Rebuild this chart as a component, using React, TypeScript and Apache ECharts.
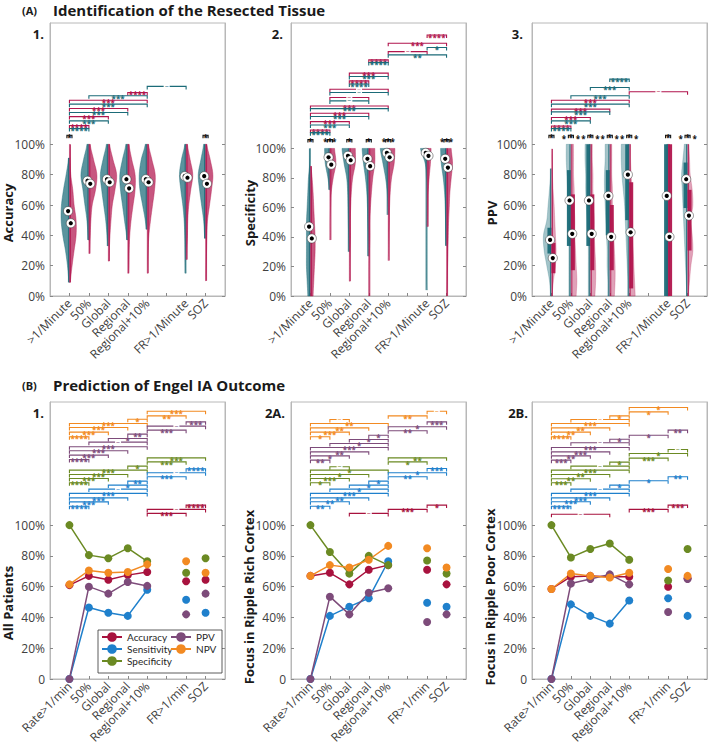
import React, { useEffect, useRef } from "react";
import * as echarts from "echarts";

// ---------------- DATA ----------------
const POS = [1, 2, 3, 4, 5, 7, 8];
const TOP_LABELS = [">1/Minute", "50%", "Global", "Regional", "Regional+10%", "FR>1/Minute", "SOZ"];
const BOTTOM_LABELS = ["Rate>1/min", "50%", "Global", "Regional", "Regional+10%", "FR>1/min", "SOZ"];
const Y_TICKS = [0, 20, 40, 60, 80, 100];

// Violin density profiles, sampled at 0,10,...,100 %
const accTealDensity = [
  [0, 2, 6, 12, 20, 25, 24, 18, 10, 3, 0],
  [0, 0, 0, 2, 3, 6, 12, 18, 24, 16, 6],
  [0, 0, 0, 1, 4, 8, 14, 20, 24, 16, 6],
  [0, 0, 0, 1, 4, 10, 16, 22, 24, 16, 6],
  [0, 0, 0, 0, 1, 6, 14, 22, 24, 18, 6],
  [0, 1, 2, 3, 4, 6, 10, 16, 20, 14, 4],
  [0, 0, 0, 1, 3, 6, 12, 18, 22, 14, 6],
];
const accTealRange = [[9, 91], [37, 100], [33, 100], [37, 100], [44, 100], [15, 100], [38, 100]];
const accTealMedian = [56, 76, 77, 77, 77, 79, 79];
const accRedDensity = [
  [0, 3, 8, 14, 20, 20, 14, 10, 4, 2, 1],
  [0, 0, 1, 2, 4, 6, 10, 20, 24, 14, 4],
  [0, 0, 2, 3, 5, 8, 12, 20, 25, 14, 4],
  [0, 1, 3, 4, 6, 10, 16, 22, 22, 12, 4],
  [0, 1, 2, 3, 5, 10, 16, 22, 24, 14, 4],
  [0, 0, 1, 2, 4, 5, 8, 14, 20, 12, 4],
  [0, 1, 2, 3, 4, 6, 12, 18, 22, 14, 4],
];
const accRedRange = [[9, 100], [28, 100], [23, 100], [15, 100], [15, 100], [24, 100], [10, 100]];
const accRedMedian = [48, 74, 75, 71, 75, 78, 74];

const specTealDensity = [
  [8, 10, 12, 12, 12, 12, 10, 8, 6, 2, 1],
  [0, 0, 0, 0, 0, 0, 0, 1, 6, 14, 16],
  [0, 0, 0, 1, 2, 3, 4, 5, 8, 16, 22],
  [0, 0, 0, 1, 2, 3, 4, 6, 10, 16, 20],
  [0, 0, 0, 0, 0, 0, 1, 3, 8, 16, 24],
  [0, 1, 1, 1, 1, 1, 1, 1, 2, 6, 20],
  [0, 0, 0, 0, 2, 3, 4, 6, 10, 16, 18],
];
const specTealRange = [[0, 100], [72, 100], [30, 100], [27, 100], [55, 100], [4, 100], [34, 100]];
const specTealMedian = [47, 94, 95, 93, 97, 97, 93];
const specRedDensity = [
  [8, 10, 12, 14, 14, 12, 10, 8, 5, 1, 0],
  [0, 0, 0, 0, 1, 1, 2, 4, 10, 18, 14],
  [0, 1, 1, 2, 3, 3, 4, 6, 10, 18, 18],
  [1, 1, 1, 2, 3, 3, 5, 8, 12, 18, 18],
  [0, 0, 0, 1, 2, 3, 4, 6, 10, 18, 20],
  [0, 0, 0, 0, 0, 1, 2, 3, 6, 10, 12],
  [1, 2, 3, 4, 5, 6, 8, 10, 14, 18, 14],
];
const specRedRange = [[0, 88], [38, 100], [10, 100], [0, 100], [24, 100], [47, 100], [0, 100]];
const specRedMedian = [39, 89, 92, 88, 94, 95, 87];

const ppvTealDensity = [
  [2, 6, 14, 22, 24, 14, 10, 6, 2, 0, 0],
  [6, 6, 6, 6, 6, 8, 10, 10, 12, 14, 14],
  [6, 6, 6, 6, 8, 10, 12, 14, 14, 16, 16],
  [6, 6, 8, 8, 10, 12, 14, 16, 16, 14, 14],
  [4, 4, 6, 8, 10, 12, 14, 18, 22, 24, 24],
  [4, 4, 4, 4, 4, 4, 4, 4, 4, 4, 4],
  [2, 4, 6, 8, 10, 12, 14, 16, 18, 14, 10],
];
const ppvTealRange = [[0, 84], [0, 100], [0, 100], [0, 100], [0, 100], [0, 100], [0, 100]];
const ppvTealMedian = [37, 63, 63, 66, 80, 66, 77];
const ppvTealIqr = [[28, 45], [33, 83], [33, 100], [40, 83], [50, 100], [0, 100], [58, 88]];
const ppvRedDensity = [
  [2, 6, 12, 14, 12, 10, 8, 5, 3, 2, 0],
  [16, 18, 16, 14, 12, 12, 10, 10, 8, 8, 8],
  [14, 16, 16, 14, 12, 12, 10, 8, 8, 6, 6],
  [14, 16, 16, 14, 12, 10, 8, 8, 6, 6, 6],
  [18, 16, 14, 12, 10, 10, 8, 8, 6, 4, 4],
  [4, 4, 4, 4, 4, 4, 4, 4, 4, 4, 4],
  [2, 6, 10, 16, 14, 10, 16, 14, 8, 6, 4],
];
const ppvRedRange = [[0, 97], [0, 100], [0, 100], [0, 100], [0, 100], [0, 100], [0, 100]];
const ppvRedMedian = [25, 41, 41, 39, 42, 39, 53];
const ppvRedIqr = [[15, 35], [17, 67], [17, 67], [17, 60], [5, 75], [0, 100], [30, 70]];

// Bottom row metrics at POS
const allAcc = [61, 67, 64.5, 67.5, 69.5, 63.5, 64.5];
const allSens = [0, 46.5, 43, 41, 58, 51.5, 43];
const allSpec = [100, 80.5, 78.5, 85, 76.5, 69, 78.5];
const allPpv = [0, 60, 55.5, 63, 60.5, 42, 55.5];
const allNpv = [61.5, 70.5, 69, 69.5, 74.5, 76.5, 69];

const richAcc = [67, 69, 61.5, 71, 74, 71, 61.5];
const richSens = [0, 41, 47, 52.5, 76.5, 49.5, 47];
const richSpec = [100, 82.5, 68.5, 80, 74, 77, 68.5];
const richPpv = [0, 53.5, 42, 56, 59, 37, 42];
const richNpv = [67, 74, 72.5, 77.5, 86.5, 85, 72.5];

const poorAcc = [58.5, 66.5, 67, 66.5, 66.5, 60, 65.5];
const poorSens = [0, 48.5, 41, 36, 51, 52.5, 41];
const poorSpec = [100, 79, 84.5, 88, 77.5, 64, 84.5];
const poorPpv = [0, 62, 65, 68, 61.5, 43.5, 65];
const poorNpv = [58.5, 68.5, 67, 66, 69, 71.5, 67];

// Significance brackets [from, to, level(%), label]
type Br = [number, number, number, string];
const accRedBr: Br[] = [[1, 2, 112.4, "****"], [1, 3, 118.3, "***"], [1, 4, 123.6, "***"], [1, 5, 129.1, "***"], [4, 5, 134.2, "****"]];
const accTealBr: Br[] = [[1, 2, 110.4, "****"], [1, 3, 115.5, "***"], [1, 4, 121, "***"], [1, 5, 126.5, "***"], [2, 5, 132, "***"], [5, 7, 138.2, "~"]];
const specRedBr: Br[] = [[1, 2, 112.5, "****"], [1, 3, 118.2, "***"], [1, 4, 123.8, "***"], [1, 5, 128.8, "***"], [2, 4, 134.5, "~"], [2, 5, 140.1, "~"], [3, 4, 145.8, "****"], [3, 5, 151, "***"], [4, 5, 160, "****"], [5, 7, 165.6, "~"], [5, 8, 171.3, "***"], [7, 8, 176.9, "****"]];
const specTealBr: Br[] = [[1, 2, 110.7, "****"], [1, 3, 115.9, "***"], [1, 4, 121.6, "***"], [1, 5, 127, "***"], [2, 4, 132.2, "~"], [2, 5, 137.9, "~"], [3, 4, 143.7, "****"], [3, 5, 148.7, "***"], [4, 5, 158.2, "****"], [5, 8, 163.4, "**"], [7, 8, 168.4, "*"]];
const ppvRedBr: Br[] = [[1, 2, 112.1, "****"], [1, 3, 117.7, "***"], [1, 4, 123.2, "***"], [1, 5, 129.1, "***"], [5, 8, 134.7, "~"]];
const ppvTealBr: Br[] = [[1, 2, 110.4, "****"], [1, 3, 115.5, "***"], [1, 4, 121.4, "***"], [1, 5, 126.5, "***"], [2, 5, 132, "***"], [3, 5, 137.5, "***"], [4, 5, 143, "****"]];

// within-category marks [position, label, side asterisks (1/0)]
const accWithin: [number, string, number][] = [[1, "*", 0], [8, "*", 0]];
const specWithin: [number, string, number][] = [[1, "*", 0], [2, "***", 0], [3, "*", 0], [4, "*", 0], [5, "***", 0], [8, "***", 0]];
const ppvWithin: [number, string, number][] = [[1, "*", 0], [2, "*", 1], [3, "*", 1], [4, "*", 1], [5, "*", 1], [7, "*", 0], [8, "*", 1]];

const allNpvBr: Br[] = [[5, 8, 174.0, "***"], [5, 7, 171.0, "**"], [4, 5, 168.8, "*"], [1, 5, 166.0, "***"], [1, 4, 163.4, "***"], [1, 3, 160.4, "***"], [1, 2, 157.4, "****"]];
const allPpvBr: Br[] = [[7, 8, 167.1, "***"], [5, 8, 164.3, "~"], [5, 7, 161.7, "***"], [4, 5, 159.1, "**"], [3, 5, 156.3, "*"], [2, 5, 153.9, "~"], [1, 5, 150.9, "***"], [1, 4, 148.3, "***"], [1, 3, 145.5, "***"], [1, 2, 142.6, "****"]];
const allSpecBr: Br[] = [[5, 8, 143.7, "***"], [5, 7, 141.1, "***"], [4, 5, 138.3, "*"], [1, 5, 135.7, "***"], [1, 4, 132.9, "***"], [1, 3, 130.3, "***"], [1, 2, 127.5, "****"]];
const allSensBr: Br[] = [[7, 8, 136.6, "****"], [5, 8, 134.0, "~"], [5, 7, 131.4, "***"], [4, 5, 128.6, "**"], [3, 5, 126.0, "*"], [2, 5, 123.4, "~"], [1, 5, 120.6, "***"], [1, 4, 117.7, "***"], [1, 3, 115.1, "***"], [1, 2, 112.3, "****"]];
const allAccBr: Br[] = [[7, 8, 113.0, "****"], [5, 8, 110.2, "~"], [5, 7, 107.6, "***"]];

const richNpvBr: Br[] = [[7, 8, 174.0, "~"], [5, 7, 171.0, "**"], [2, 3, 168.6, "~"], [1, 5, 166.0, "**"], [1, 4, 163.2, "**"], [1, 3, 160.4, "***"], [1, 2, 157.4, "*"]];
const richPpvBr: Br[] = [[7, 8, 167.1, "***"], [5, 8, 163.9, "*"], [5, 7, 161.3, "**"], [4, 5, 158.4, "*"], [3, 5, 155.6, "*"], [2, 5, 153.0, "*"], [1, 5, 150.4, "***"], [1, 4, 147.6, "**"], [1, 3, 145.0, "*"], [1, 2, 142.2, "**"]];
const richSpecBr: Br[] = [[5, 8, 143.7, "**"], [5, 7, 141.1, "*"], [2, 3, 137.9, "~"], [1, 5, 135.7, "*"], [1, 4, 132.9, "*"], [1, 3, 130.3, "***"], [1, 2, 127.5, "*"]];
const richSensBr: Br[] = [[7, 8, 136.8, "***"], [5, 8, 134.0, "*"], [5, 7, 131.4, "**"], [4, 5, 128.6, "*"], [3, 5, 126.0, "*"], [2, 5, 123.4, "*"], [1, 5, 120.6, "***"], [1, 4, 117.7, "**"], [1, 3, 115.2, "**"], [1, 2, 112.3, "**"]];
const richAccBr: Br[] = [[7, 8, 113.0, "*"], [5, 7, 110.2, "***"], [3, 5, 107.6, "~"]];

const poorNpvBr: Br[] = [[5, 8, 176.4, "*"], [5, 7, 173.6, "*"], [4, 5, 171.0, "*"], [2, 5, 168.6, "~"], [1, 5, 166.0, "***"], [1, 4, 163.2, "**"], [1, 3, 160.4, "**"], [1, 2, 157.4, "****"]];
const poorPpvBr: Br[] = [[7, 8, 161.7, "**"], [5, 7, 158.4, "*"], [4, 5, 155.8, "*"], [2, 5, 153.5, "~"], [1, 5, 150.4, "***"], [1, 4, 147.6, "***"], [1, 3, 145.0, "**"], [1, 2, 142.2, "***"]];
const poorSpecBr: Br[] = [[7, 8, 149.1, "~"], [5, 8, 146.5, "*"], [5, 7, 143.5, "***"], [4, 5, 140.9, "*"], [2, 5, 138.3, "~"], [1, 5, 135.7, "***"], [1, 4, 132.9, "**"], [1, 3, 130.1, "**"], [1, 2, 127.5, "***"]];
const poorSensBr: Br[] = [[7, 8, 131.4, "**"], [5, 7, 128.8, "*"], [4, 5, 126.0, "*"], [2, 5, 123.4, "~"], [1, 5, 120.6, "***"], [1, 4, 117.7, "***"], [1, 3, 115.2, "***"], [1, 2, 112.3, "****"]];
const poorAccBr: Br[] = [[7, 8, 113.0, "***"], [5, 7, 110.2, "***"], [1, 4, 107.1, "~"]];

const METRICS = ["Accuracy", "Sensitivity", "Specificity", "PPV", "NPV"];

// ---------------- STYLE / LAYOUT ----------------
const FONT = '"Open Sans", "Noto Sans", sans-serif';
const TEAL = "#1b6b78";
const CRIMSON = "#b1154d";
const MCOLORS = ["#a8123e", "#1f80cc", "#6b8a23", "#7d4b7a", "#f28a22"];
const GRID_LEFT = [50, 291, 532];
const GRID_W = 175;
const TOP_Y = 23, TOP_H = 273;
const BOT_Y = 402, BOT_H = 277;
const AXIS_GRAY = "#b8b8b8";
const LABEL_GRAY = "#404040";

function densAt(d: number[], v: number): number {
  const t = v / 10;
  const i = Math.floor(t);
  if (i >= 10) return d[10];
  if (i < 0) return d[0];
  const f = t - i;
  const p0 = d[Math.max(i - 1, 0)], p1 = d[i], p2 = d[Math.min(i + 1, 10)], p3 = d[Math.min(i + 2, 10)];
  const r = 0.5 * (2 * p1 + (-p0 + p2) * f + (2 * p0 - 5 * p1 + 4 * p2 - p3) * f * f + (-p0 + 3 * p1 - 3 * p2 + p3) * f * f * f);
  return Math.max(0, r);
}

interface Half { density: number[][]; range: number[][]; median: number[]; iqr?: number[][] }

function violinSeries(g: number, teal: Half, red: Half, alpha: number) {
  const items: number[][] = [];
  POS.forEach((p, i) => { items.push([p, 0, i]); items.push([p, 1, i]); });
  return {
    type: "custom", xAxisIndex: g, yAxisIndex: 2 * g, z: 2, silent: true,
    data: items, encode: { x: 0, y: 1 },
    renderItem: (params: any, api: any) => {
      const [p, side, i] = items[params.dataIndex];
      const h = side === 0 ? teal : red;
      const col = side === 0 ? TEAL : CRIMSON;
      const sign = side === 0 ? -1 : 1;
      const unit = api.size([1, 0])[0];
      const cx = api.coord([p, 0])[0];
      const [lo, hi] = h.range[i];
      const pts: number[][] = [];
      for (let v = lo; v < hi; v += 1) pts.push([cx + sign * densAt(h.density[i], v) / 58.6 * unit, api.coord([p, v])[1]]);
      pts.push([cx + sign * densAt(h.density[i], hi) / 58.6 * unit, api.coord([p, hi])[1]]);
      pts.push([cx, api.coord([p, hi])[1]]);
      pts.push([cx, api.coord([p, lo])[1]]);
      const children: any[] = [
        { type: "polygon", shape: { points: pts }, style: { fill: col, opacity: alpha, stroke: col, lineWidth: 0.6 } },
        { type: "line", shape: { x1: cx + sign * 1, y1: api.coord([p, lo])[1], x2: cx + sign * 1, y2: api.coord([p, hi])[1] }, style: { stroke: col, lineWidth: 1, opacity: 0.85 } },
      ];
      if (h.iqr) {
        const [q1, q3] = h.iqr[i];
        const y1 = api.coord([p, q3])[1], y2 = api.coord([p, q1])[1];
        children.push({ type: "rect", shape: { x: sign < 0 ? cx - 4 : cx, y: y1, width: 4, height: y2 - y1 }, style: { fill: col, opacity: 0.95 } });
      }
      return { type: "group", children };
    },
  };
}

function medianSeries(g: number, teal: Half, red: Half) {
  const items: number[][] = [];
  POS.forEach((p, i) => { items.push([p, 0, i]); items.push([p, 1, i]); });
  return {
    type: "custom", xAxisIndex: g, yAxisIndex: 2 * g, z: 4, silent: true,
    data: items, encode: { x: 0, y: 1 },
    renderItem: (params: any, api: any) => {
      const [p, side, i] = items[params.dataIndex];
      const h = side === 0 ? teal : red;
      const sign = side === 0 ? -1 : 1;
      const c = api.coord([p + sign * 0.07, h.median[i]]);
      return {
        type: "group",
        children: [
          { type: "circle", shape: { cx: c[0], cy: c[1], r: 4.6 }, style: { fill: "#ffffff", stroke: "#333", lineWidth: 0.5 } },
          { type: "circle", shape: { cx: c[0], cy: c[1], r: 2.1 }, style: { fill: "#000" } },
        ],
      };
    },
  };
}

interface BItem { x1: number; x2: number; y: number; label: string; color: string; kind: "br" | "txt" }

function toItems(brs: Br[], color: string): BItem[] {
  return brs.map((b) => ({ x1: b[0], x2: b[1], y: b[2], label: b[3], color, kind: "br" as const }));
}
function withinItems(w: [number, string, number][], y: number): BItem[] {
  const out: BItem[] = [];
  w.forEach(([p, lab, sides]) => {
    out.push({ x1: p - 0.13, x2: p + 0.13, y, label: lab, color: "#111", kind: "br" });
    if (sides) {
      out.push({ x1: p - 0.36, x2: p - 0.36, y: y - 0.5, label: "*", color: "#111", kind: "txt" });
      out.push({ x1: p + 0.36, x2: p + 0.36, y: y - 0.5, label: "*", color: "#111", kind: "txt" });
    }
  });
  return out;
}

function bracketSeries(g: number, items: BItem[]) {
  return {
    type: "custom", xAxisIndex: g, yAxisIndex: 2 * g, z: 5, silent: true,
    data: items.map((b) => [b.x1, b.x2, b.y]), encode: { x: [0, 1], y: 2 },
    renderItem: (params: any, api: any) => {
      const b = items[params.dataIndex];
      const p1 = api.coord([b.x1, b.y]);
      const p2 = api.coord([b.x2, b.y]);
      const mx = (p1[0] + p2[0]) / 2;
      const children: any[] = [];
      if (b.kind === "br") {
        children.push({
          type: "polyline",
          shape: { points: [[p1[0], p1[1] + 3], [p1[0], p1[1]], [p2[0], p2[1]], [p2[0], p2[1] + 3]] },
          style: { stroke: b.color, fill: null, lineWidth: 1.1 },
        });
      }
      if (b.label === "~") {
        children.push({
          type: "text", x: mx, y: p1[1],
          style: { text: "~", fill: b.color, font: `7px ${FONT}`, lineHeight: 6, align: "center", verticalAlign: "middle", textAlign: "center", textVerticalAlign: "middle", backgroundColor: "#ffffff", padding: [0, 1] },
        });
      } else {
        children.push({
          type: "text", x: mx, y: p1[1] + 2.2,
          style: { text: b.label, fill: b.color, font: `bold 8px ${FONT}`, lineHeight: 6, align: "center", verticalAlign: "middle", textAlign: "center", textVerticalAlign: "middle" },
        });
      }
      return { type: "group", children };
    },
  };
}

function buildOption() {
  const grids: any[] = [];
  const xAxes: any[] = [];
  const yAxes: any[] = [];
  const series: any[] = [];
  const panelMax = [180, 185, 180, 180, 180, 180];
  for (let g = 0; g < 6; g++) {
    const col = g % 3;
    const top = g < 3;
    grids.push({ left: GRID_LEFT[col], top: top ? TOP_Y : BOT_Y, width: GRID_W, height: top ? TOP_H : BOT_H, show: true, borderColor: AXIS_GRAY, borderWidth: 1, backgroundColor: "transparent" });
    const labels = top ? TOP_LABELS : BOTTOM_LABELS;
    xAxes.push({
      type: "value", gridIndex: g, min: 0, max: 9, interval: 1,
      axisLine: { show: true, lineStyle: { color: AXIS_GRAY } },
      axisTick: { show: true, inside: true, length: 3, lineStyle: { color: "#888" }, customValues: [1, 2, 3, 4, 5, 6, 7, 8] },
      splitLine: { show: false },
      axisLabel: {
        customValues: POS, rotate: 45, margin: 5, fontSize: 12, color: LABEL_GRAY, fontFamily: FONT,
        formatter: (v: number) => { const i = POS.indexOf(Math.round(v)); return i >= 0 ? labels[i] : ""; },
      },
    });
    const fmt = (v: number) => (v === 0 && !top ? "0" : `${v}%`);
    yAxes.push({
      type: "value", gridIndex: g, min: 0, max: panelMax[g], interval: 20, position: "left",
      axisLine: { show: true, lineStyle: { color: AXIS_GRAY } },
      axisTick: { show: true, inside: true, length: 3, lineStyle: { color: "#888" }, customValues: Y_TICKS },
      splitLine: { show: false },
      axisLabel: { customValues: Y_TICKS, formatter: fmt, fontSize: 12, color: LABEL_GRAY, margin: 5, fontFamily: FONT },
    });
    yAxes.push({
      type: "value", gridIndex: g, min: 0, max: panelMax[g], interval: 20, position: "right",
      axisLine: { show: true, lineStyle: { color: AXIS_GRAY } },
      axisTick: { show: true, inside: true, length: 3, lineStyle: { color: "#888" }, customValues: Y_TICKS },
      splitLine: { show: false },
      axisLabel: { show: false },
    });
  }

  // top violins
  const tops = [
    { teal: { density: accTealDensity, range: accTealRange, median: accTealMedian }, red: { density: accRedDensity, range: accRedRange, median: accRedMedian }, alpha: 0.72, br: [...toItems(accRedBr, CRIMSON), ...toItems(accTealBr, TEAL), ...withinItems(accWithin, 106)] },
    { teal: { density: specTealDensity, range: specTealRange, median: specTealMedian }, red: { density: specRedDensity, range: specRedRange, median: specRedMedian }, alpha: 0.72, br: [...toItems(specRedBr, CRIMSON), ...toItems(specTealBr, TEAL), ...withinItems(specWithin, 106)] },
    { teal: { density: ppvTealDensity, range: ppvTealRange, median: ppvTealMedian, iqr: ppvTealIqr }, red: { density: ppvRedDensity, range: ppvRedRange, median: ppvRedMedian, iqr: ppvRedIqr }, alpha: 0.4, br: [...toItems(ppvRedBr, CRIMSON), ...toItems(ppvTealBr, TEAL), ...withinItems(ppvWithin, 106)] },
  ];
  tops.forEach((t, g) => {
    series.push(violinSeries(g, t.teal, t.red, t.alpha));
    series.push(medianSeries(g, t.teal, t.red));
    series.push(bracketSeries(g, t.br));
  });

  const bottoms = [
    { vals: [allAcc, allSens, allSpec, allPpv, allNpv], brs: [allNpvBr, allPpvBr, allSpecBr, allSensBr, allAccBr] },
    { vals: [richAcc, richSens, richSpec, richPpv, richNpv], brs: [richNpvBr, richPpvBr, richSpecBr, richSensBr, richAccBr] },
    { vals: [poorAcc, poorSens, poorSpec, poorPpv, poorNpv], brs: [poorNpvBr, poorPpvBr, poorSpecBr, poorSensBr, poorAccBr] },
  ];
  const brColors = [MCOLORS[4], MCOLORS[3], MCOLORS[2], MCOLORS[1], MCOLORS[0]];
  bottoms.forEach((b, k) => {
    const g = 3 + k;
    b.vals.forEach((vals, m) => {
      series.push({
        type: "line", name: METRICS[m], xAxisIndex: g, yAxisIndex: 2 * g, z: 3,
        data: POS.slice(0, 5).map((p, i) => [p, vals[i]]),
        symbol: "circle", symbolSize: 8, showSymbol: true,
        lineStyle: { width: 1.5, color: MCOLORS[m] }, itemStyle: { color: MCOLORS[m] },
        silent: true,
      });
    });
    b.vals.forEach((vals, m) => {
      series.push({
        type: "scatter", name: METRICS[m], xAxisIndex: g, yAxisIndex: 2 * g, z: 3,
        data: [[POS[5], vals[5]], [POS[6], vals[6]]],
        symbol: "circle", symbolSize: 8, itemStyle: { color: MCOLORS[m], opacity: 1 }, silent: true,
      });
    });
    const items: BItem[] = [];
    b.brs.forEach((brs, j) => items.push(...toItems(brs, brColors[j])));
    series.push(bracketSeries(g, items));
  });

  const txt = (text: string, x: number, y: number, font: string, extra: any = {}) => ({
    type: "text", x, y, silent: true, ...extra,
    style: { text, font, fill: "#1a1a1a", align: extra.align || "left", verticalAlign: "middle", textAlign: extra.align || "left", textVerticalAlign: "middle" },
  });
  const vtxt = (text: string, x: number, y: number) => ({
    type: "text", x, y, rotation: Math.PI / 2, silent: true,
    style: { text, font: `bold 13px ${FONT}`, fill: "#1a1a1a", align: "center", verticalAlign: "middle", textAlign: "center", textVerticalAlign: "middle" },
  });
  const graphic: any[] = [
    txt("(A)", 22, 10, `bold 11px ${FONT}`),
    txt("Identification of the Resected Tissue", 53, 10, `bold 15px ${FONT}`),
    txt("(B)", 22, 385, `bold 11px ${FONT}`),
    txt("Prediction of Engel IA Outcome", 53, 385, `bold 15px ${FONT}`),
    txt("1.", GRID_LEFT[0] - 6, TOP_Y + 11, `bold 13px ${FONT}`, { align: "right" }),
    txt("2.", GRID_LEFT[1] - 8, TOP_Y + 11, `bold 13px ${FONT}`, { align: "right" }),
    txt("3.", GRID_LEFT[2] - 9, TOP_Y + 11, `bold 13px ${FONT}`, { align: "right" }),
    txt("1.", GRID_LEFT[0] - 6, BOT_Y + 11, `bold 13px ${FONT}`, { align: "right" }),
    txt("2A.", GRID_LEFT[1] - 6, BOT_Y + 11, `bold 13px ${FONT}`, { align: "right" }),
    txt("2B.", GRID_LEFT[2] - 4, BOT_Y + 11, `bold 13px ${FONT}`, { align: "right" }),
    vtxt("Accuracy", 8, 213),
    vtxt("Specificity", 250, 213),
    vtxt("PPV", 492, 213),
    vtxt("All Patients", 8, 603),
    vtxt("Focus in Ripple Rich Cortex", 249, 597),
    vtxt("Focus in Ripple Poor Cortex", 490, 597),
    { type: "rect", z: 3, silent: true, shape: { x: 98, y: 630, width: 124, height: 43 }, style: { fill: "#ffffff", stroke: "#333", lineWidth: 0.8 } },
  ];

  const legendBase = {
    orient: "vertical", itemGap: 2, itemWidth: 20, itemHeight: 12, selectedMode: false, z: 6,
    textStyle: { fontSize: 10, color: "#262626", fontFamily: '"Lato", "Open Sans", sans-serif' }, padding: 0,
  };

  return {
    animation: false,
    backgroundColor: "#ffffff",
    textStyle: { fontFamily: FONT },
    grid: grids,
    xAxis: xAxes,
    yAxis: yAxes,
    legend: [
      { ...legendBase, left: 101, top: 632, data: ["Accuracy", "Sensitivity", "Specificity"] },
      { ...legendBase, left: 170, top: 632, data: ["PPV", "NPV"] },
    ],
    graphic,
    series,
  };
}

export default function App() {
  const ref = useRef<HTMLDivElement>(null);
  useEffect(() => {
    const chart = echarts.init(ref.current!, null, { renderer: "svg" });
    chart.setOption(buildOption() as any);
    return () => chart.dispose();
  }, []);
  return <div ref={ref} style={{ position: "absolute", left: 0, top: 0, width: 709, height: 748, background: "#fff" }} />;
}
